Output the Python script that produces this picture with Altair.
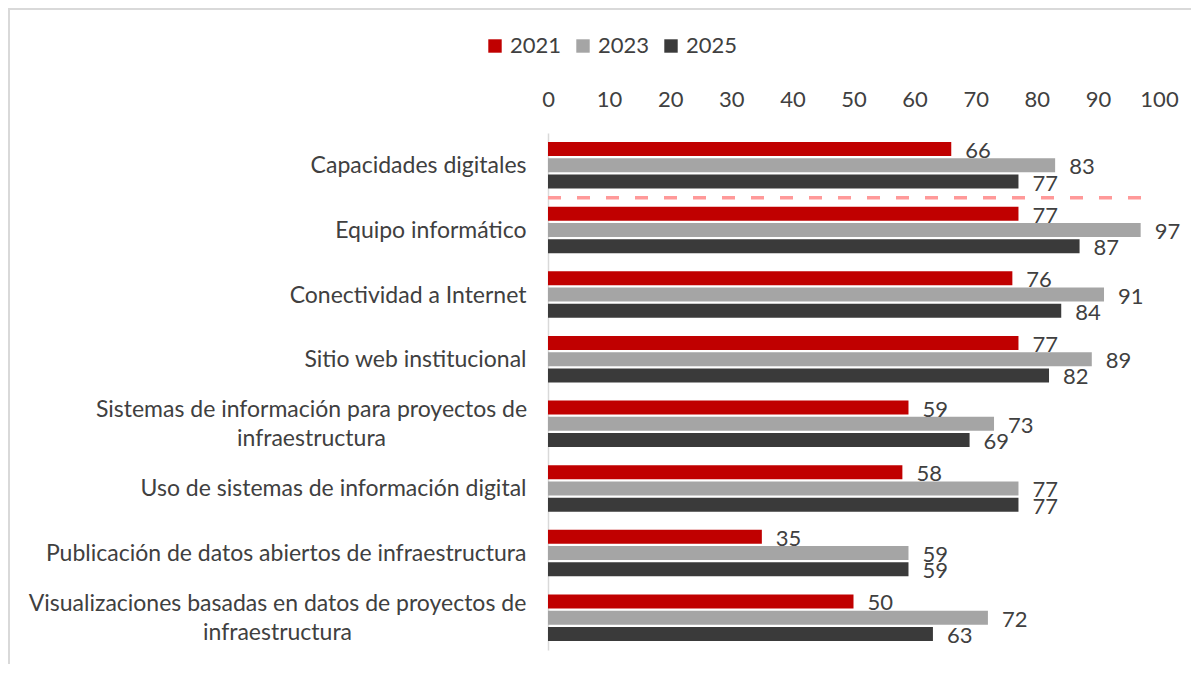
import altair as alt
import pandas as pd

categories = [
    "Capacidades digitales",
    "Equipo informático",
    "Conectividad a Internet",
    "Sitio web institucional",
    "Sistemas de información para proyectos de infraestructura",
    "Uso de sistemas de información digital",
    "Publicación de datos abiertos de infraestructura",
    "Visualizaciones basadas en datos de proyectos de infraestructura",
]
wrapped = {
    "Sistemas de información para proyectos de infraestructura":
        ["Sistemas de información para proyectos de", "infraestructura"],
    "Visualizaciones basadas en datos de proyectos de infraestructura":
        ["Visualizaciones basadas en datos de proyectos de", "infraestructura"],
}
# label padding that centres each wrapped label block under its first line
wrapped_padding = {
    "Sistemas de información para proyectos de infraestructura": 237,
    "Visualizaciones basadas en datos de proyectos de infraestructura": 271,
}
years = ["2021", "2023", "2025"]
v2021 = [66, 77, 76, 77, 59, 58, 35, 50]
v2023 = [83, 97, 91, 89, 73, 77, 59, 72]
v2025 = [77, 87, 84, 82, 69, 77, 59, 63]
colors = ["#C00000", "#A5A5A5", "#3A3A3A"]
x_ticks = list(range(0, 101, 10))
divider_category = ["Equipo informático"]
divider_start = [0]
divider_end = [99]

FONT = "Lato"
TXT = "#404040"
FS = 22
FS_CAT = 23

rows = []
for i, c in enumerate(categories):
    for y, vals in zip(years, [v2021, v2023, v2025]):
        rows.append({"cat": c, "year": y, "value": vals[i]})
df = pd.DataFrame(rows)
div_df = pd.DataFrame({"cat": divider_category, "start": divider_start, "end": divider_end})

label_expr = "datum.label"
for k, lines in wrapped.items():
    arr = "[" + ",".join("'" + l + "'" for l in lines) + "]"
    label_expr = f"datum.label == '{k}' ? {arr} : ({label_expr})"

wrap_test = " || ".join(f"datum.value == '{k}'" for k in wrapped)
pad_conditions = [{"test": f"datum.value == '{k}'", "value": p} for k, p in wrapped_padding.items()]

y_axis = alt.Axis(
    labelExpr=label_expr, labelFont=FONT, labelFontSize=FS_CAT, labelColor=TXT,
    labelLineHeight=29, ticks=False, domainColor="#D9D9D9",
    domainWidth=1.5, labelLimit=700, grid=False,
    labelAlign={"condition": {"test": wrap_test, "value": "center"}, "value": "right"},
    labelOffset={"condition": {"test": wrap_test, "value": -14}, "value": 1},
    labelPadding={"condition": pad_conditions, "value": 22},
)
y_enc = alt.Y(
    "cat:N", sort=categories, title=None,
    scale=alt.Scale(paddingInner=0, paddingOuter=0),
    axis=y_axis,
)
yoff = alt.YOffset("year:N", sort=years, scale=alt.Scale(paddingInner=0.14, paddingOuter=0.56))
x_enc = alt.X(
    "value:Q", title=None, scale=alt.Scale(domain=[0, 100], nice=False),
    axis=alt.Axis(
        orient="top", values=x_ticks, labelFont=FONT, labelFontSize=FS, labelColor=TXT,
        labelPadding=22, ticks=False, domain=False, grid=False, labelFlush=False,
    ),
)

base = alt.Chart(df)
bars = base.mark_bar().encode(
    x=x_enc, y=y_enc, yOffset=yoff,
    color=alt.Color(
        "year:N", sort=years, scale=alt.Scale(domain=years, range=colors),
        legend=alt.Legend(
            title=None, orient="none", direction="horizontal", legendX=-64, legendY=-98,
            symbolType="square", symbolSize=180, symbolStrokeWidth=0,
            labelFont=FONT, labelFontSize=FS, labelColor=TXT, columnPadding=10, labelOffset=4,
        ),
    ),
)
labels = base.mark_text(
    align="left", baseline="middle", dx=14, dy=2, font=FONT, fontSize=FS, color=TXT
).encode(x="value:Q", y=alt.Y("cat:N", sort=categories), yOffset=yoff, text="value:Q")

divider = alt.Chart(div_df).mark_rule(
    strokeDash=[13, 16], strokeWidth=3.5, color="#FF9999"
).encode(
    x="start:Q", x2="end:Q", y=alt.Y("cat:N", sort=categories, bandPosition=0)
)

frame = alt.Chart(div_df).mark_rect(
    fill=None, stroke="#D9D9D9", strokeWidth=2, clip=False
).encode(
    x=alt.value(-539), x2=alt.value(700), y=alt.value(-124), y2=alt.value(600)
)

chart = alt.layer(frame, bars, labels, divider).properties(
    width=611, height=517,
    padding={"left": 540, "top": 125, "right": 32, "bottom": 14},
    autosize=alt.AutoSizeParams(type="none"),
    background="white",
).configure_view(stroke=None)

chart.save("out.html", embed_options={"renderer": "svg", "actions": False})
